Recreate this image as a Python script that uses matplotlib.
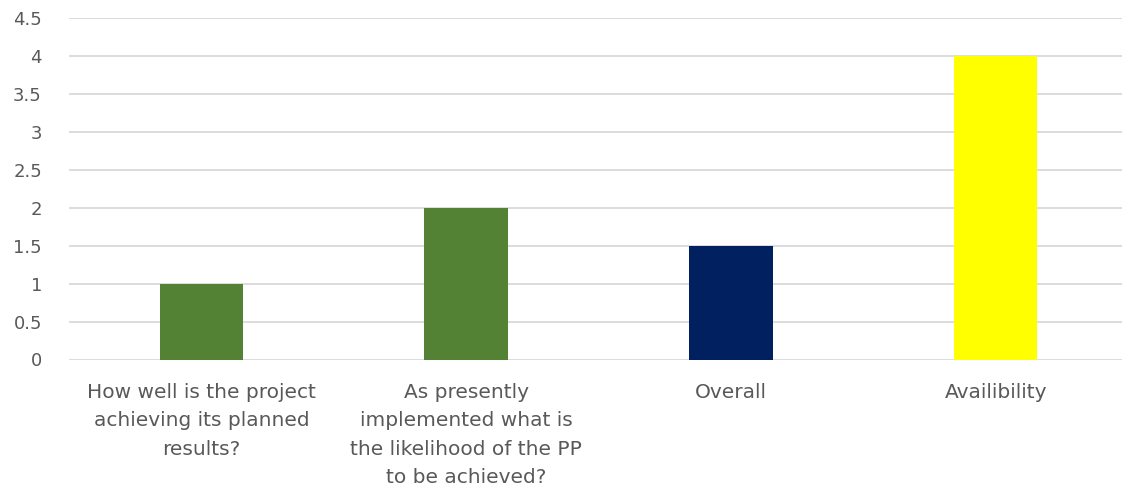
import matplotlib
matplotlib.use("Agg")
import matplotlib.pyplot as plt

categories = [
    "How well is the project\nachieving its planned\nresults?",
    "As presently\nimplemented what is\nthe likelihood of the PP\nto be achieved?",
    "Overall",
    "Availibility",
]
values = [1, 2, 1.5, 4]
bar_colors = ["#548235", "#548235", "#002060", "#FFFF00"]
y_ticks = [0, 0.5, 1, 1.5, 2, 2.5, 3, 3.5, 4, 4.5]
y_tick_labels = ["0", "0.5", "1", "1.5", "2", "2.5", "3", "3.5", "4", "4.5"]

text_color = "#595959"
plt.rcParams["font.family"] = ["DejaVu Sans"]

fig = plt.figure(figsize=(11.22, 4.93), dpi=100)
ax = fig.add_axes([69 / 1122, 133.5 / 493, 1059 / 1122, 341.5 / 493])

x = list(range(len(categories)))
ax.bar(x, values, width=0.315, color=bar_colors, zorder=3)

ax.set_xlim(-0.5, len(categories) - 0.5)
ax.set_ylim(0, 4.5)
ax.set_yticks(y_ticks)
ax.set_yticklabels(y_tick_labels)
ax.set_xticks(x)
ax.set_xticklabels(categories, linespacing=1.62)

ax.yaxis.grid(True, color="#D9D9D9", linewidth=1.3, zorder=0)
ax.xaxis.grid(False)
for side in ["left", "right", "top", "bottom"]:
    ax.spines[side].set_visible(False)

ax.tick_params(axis="y", length=0, pad=19.5, labelsize=13, labelcolor=text_color)
ax.tick_params(axis="x", length=0, pad=17, labelsize=14.5, labelcolor=text_color)
for lbl in ax.get_yticklabels():
    lbl.set_horizontalalignment("right")

fig.savefig("out.png", dpi=100, facecolor="white")
